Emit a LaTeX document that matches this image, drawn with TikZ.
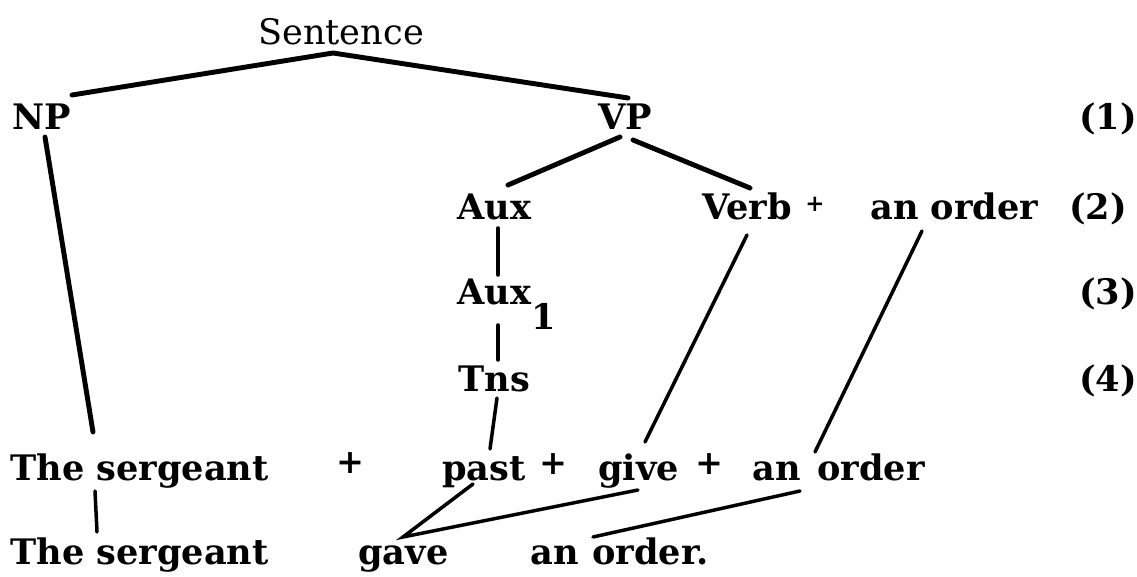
\documentclass[tikz,border=0pt]{standalone}
\usepackage{fontspec}
\setmainfont{DejaVu Serif}

\begin{document}
\begin{tikzpicture}[x=0.02cm, y=-0.02cm,
    word/.style={anchor=base west, inner sep=0pt, font=\fontsize{20}{24}\selectfont\bfseries},
    plus/.style={inner sep=0pt, font=\fontsize{19}{19}\selectfont\bfseries},
    tinyplus/.style={inner sep=0pt, font=\fontsize{13}{13}\selectfont\bfseries},
    branch/.style={line width=2.8pt, line cap=round},
    twig/.style={line width=2pt, line cap=round}]
    \useasboundingbox (0,0) rectangle (1137,577);

    % level labels on the right
    \node[word] (n1) at (1079,130) {(1)};
    \node[word] (n2) at (1069,220) {(2)};
    \node[word] (n3) at (1079,305) {(3)};
    \node[word] (n4) at (1079,392) {(4)};

    % the tree
    \node[word, font=\fontsize{20}{24}\selectfont] (S) at (258,45) {Sentence};
    \node[word] (NP) at (12,130) {NP};
    \node[word] (VP) at (598,130) {VP};
    \node[word] (Aux) at (457,220) {Aux};
    \node[word] (Verb) at (702,220) {Verb};
    \node[tinyplus] (plusV) at (815,204) {+};
    \node[word] (order2) at (870,220) {an order};
    \node[word] (Aux1) at (457,305) {Aux\raisebox{-0.5cm}{1}};
    \node[word] (Tns) at (458,392) {Tns};

    % the string
    \node[word] (serg5) at (10,481) {The sergeant};
    \node[plus] (plusA) at (350,463) {+};
    \node[word] (past) at (442,481) {past};
    \node[plus] (plusB) at (553,464) {+};
    \node[word] (give) at (598,481) {give};
    \node[plus] (plusC) at (709,464) {+};
    \node[word] (an5) at (752,481) {an};
    \node[word] (order5) at (817,481) {order};

    % the sentence
    \node[word] (serg6) at (10,565) {The sergeant};
    \node[word] (gave) at (358,565) {gave};
    \node[word] (an6) at (530,565) {an};
    \node[word] (order6) at (592,565) {order.};

    \draw[branch] ([shift={(60,-35)}]NP.base west) -- ([shift={(75,8)}]S.base west)
        -- ([shift={(30,-32)}]VP.base west);
    \draw[branch] ([shift={(51,-35)}]Aux.base west) -- ([shift={(22,7)}]VP.base west);
    \draw[branch] ([shift={(35,10)}]VP.base west) -- ([shift={(48,-32)}]Verb.base west);
    \draw[branch] ([shift={(33,7)}]NP.base west) -- ([shift={(83,-49)}]serg5.base west);

    \draw[twig] ([shift={(41,8)}]Aux.base west) -- ([shift={(41,-30)}]Aux1.base west);
    \draw[twig] ([shift={(41,20)}]Aux1.base west) -- ([shift={(40,-32)}]Tns.base west);
    \draw[twig] ([shift={(39,6)}]Tns.base west) -- ([shift={(48,-32)}]past.base west);
    \draw[twig] ([shift={(45,15)}]Verb.base west) -- ([shift={(47,-39)}]give.base west);
    \draw[twig] ([shift={(52,11)}]order2.base west) -- ([shift={(-2,-29)}]order5.base west);

    \draw[twig] ([shift={(85,10)}]serg5.base west) -- ([shift={(87,-33)}]serg6.base west);
    \draw[twig] ([shift={(31,3)}]past.base west) -- ([shift={(45,-28)}]gave.base west)
        -- ([shift={(40,9)}]give.base west);
    \draw[twig] ([shift={(48,10)}]an5.base west) -- ([shift={(1,-28)}]order6.base west);
\end{tikzpicture}
\end{document}
